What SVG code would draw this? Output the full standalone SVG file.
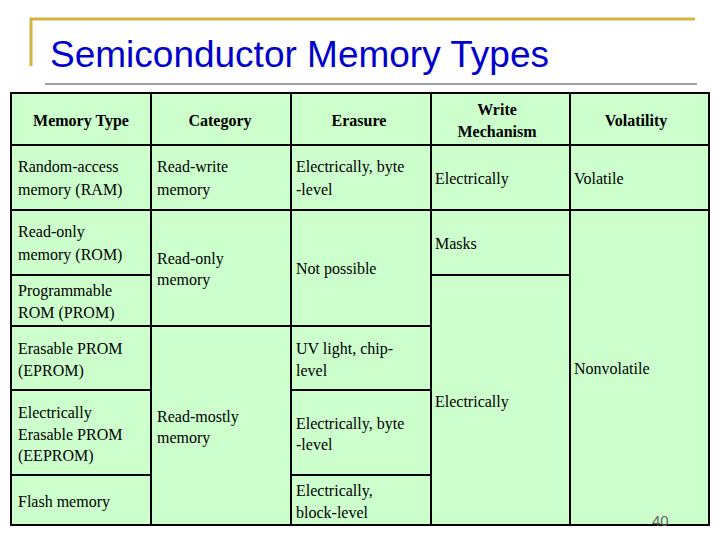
<svg xmlns="http://www.w3.org/2000/svg" width="720" height="540" viewBox="0 0 720 540">
<style>
.c{fill:#ccffcc;stroke:#000;stroke-width:2}
.t text{font-family:'Liberation Serif','Times New Roman','DejaVu Serif',serif;font-size:16px;fill:#000}
.h{font-weight:bold;text-anchor:middle}
</style>
<rect width="720" height="540" fill="#fff"/>
<path d="M31 66V19H695" fill="none" stroke="#d4b43c" stroke-width="3"/>
<text x="50" y="67" font-family="Liberation Sans, Arial, sans-serif" font-size="37" fill="#0000cc">Semiconductor Memory Types</text>
<line x1="45" y1="84" x2="697" y2="84" stroke="#444" stroke-width="1"/>
<g id="table">
<rect class="c" x="11" y="93" width="140" height="52"/>
<rect class="c" x="151" y="93" width="140" height="52"/>
<rect class="c" x="291" y="93" width="140" height="52"/>
<rect class="c" x="431" y="93" width="139" height="52"/>
<rect class="c" x="570" y="93" width="139" height="52"/>
<rect class="c" x="11" y="145" width="140" height="65"/>
<rect class="c" x="151" y="145" width="140" height="65"/>
<rect class="c" x="291" y="145" width="140" height="65"/>
<rect class="c" x="431" y="145" width="139" height="65"/>
<rect class="c" x="570" y="145" width="139" height="65"/>
<rect class="c" x="11" y="210" width="140" height="65"/>
<rect class="c" x="11" y="275" width="140" height="51"/>
<rect class="c" x="151" y="210" width="140" height="116"/>
<rect class="c" x="291" y="210" width="140" height="116"/>
<rect class="c" x="431" y="210" width="139" height="65"/>
<rect class="c" x="431" y="275" width="139" height="250"/>
<rect class="c" x="570" y="210" width="139" height="315"/>
<rect class="c" x="11" y="326" width="140" height="64"/>
<rect class="c" x="11" y="390" width="140" height="85"/>
<rect class="c" x="11" y="475" width="140" height="50"/>
<rect class="c" x="151" y="326" width="140" height="199"/>
<rect class="c" x="291" y="326" width="140" height="64"/>
<rect class="c" x="291" y="390" width="140" height="85"/>
<rect class="c" x="291" y="475" width="140" height="50"/>
</g>
<g id="text" class="t">
<text class="h" x="81" y="126">Memory Type</text>
<text class="h" x="220" y="126">Category</text>
<text class="h" x="359" y="126">Erasure</text>
<text class="h" x="497" y="115">Write</text>
<text class="h" x="497" y="137">Mechanism</text>
<text class="h" x="636" y="126">Volatility</text>
<text x="18" y="172">Random-access</text>
<text x="18" y="195">memory (RAM)</text>
<text x="157" y="172">Read-write</text>
<text x="157" y="195">memory</text>
<text x="296" y="172">Electrically, byte</text>
<text x="296" y="195">-level</text>
<text x="435" y="184">Electrically</text>
<text x="574" y="184">Volatile</text>
<text x="18" y="237">Read-only</text>
<text x="18" y="260">memory (ROM)</text>
<text x="18" y="296">Programmable</text>
<text x="18" y="318">ROM (PROM)</text>
<text x="157" y="264">Read-only</text>
<text x="157" y="285">memory</text>
<text x="296" y="274">Not possible</text>
<text x="435" y="249">Masks</text>
<text x="574" y="374">Nonvolatile</text>
<text x="435" y="407">Electrically</text>
<text x="18" y="354">Erasable PROM</text>
<text x="18" y="376">(EPROM)</text>
<text x="296" y="354">UV light, chip-</text>
<text x="296" y="376">level</text>
<text x="18" y="418">Electrically</text>
<text x="18" y="440">Erasable PROM</text>
<text x="18" y="461">(EEPROM)</text>
<text x="157" y="422">Read-mostly</text>
<text x="157" y="443">memory</text>
<text x="296" y="429">Electrically, byte</text>
<text x="296" y="450">-level</text>
<text x="18" y="507">Flash memory</text>
<text x="296" y="496">Electrically,</text>
<text x="296" y="518">block-level</text>
</g>
<text x="652" y="526" font-family="Liberation Sans, Arial, sans-serif" font-size="15" fill="#666">40</text>
</svg>
